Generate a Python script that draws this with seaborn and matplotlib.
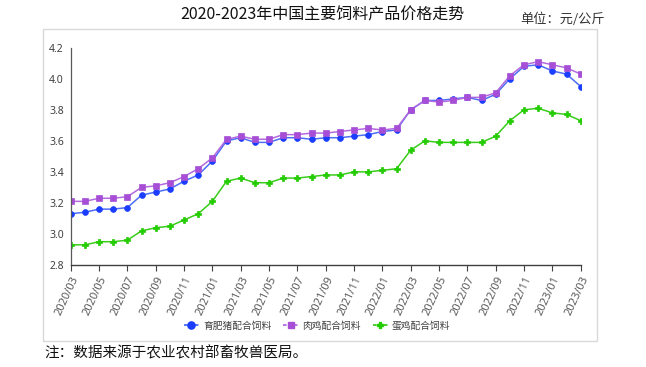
import matplotlib
matplotlib.use("Agg")
import matplotlib.pyplot as plt
import matplotlib.patches as mpatches
from matplotlib.lines import Line2D
import seaborn as sns
import pandas as pd

months = ["2020/03", "2020/04", "2020/05", "2020/06", "2020/07", "2020/08", "2020/09",
          "2020/10", "2020/11", "2020/12", "2021/01", "2021/02", "2021/03", "2021/04",
          "2021/05", "2021/06", "2021/07", "2021/08", "2021/09", "2021/10", "2021/11",
          "2021/12", "2022/01", "2022/02", "2022/03", "2022/04", "2022/05", "2022/06",
          "2022/07", "2022/08", "2022/09", "2022/10", "2022/11", "2022/12", "2023/01",
          "2023/02", "2023/03"]

pig = [3.13, 3.14, 3.16, 3.16, 3.17, 3.25, 3.27, 3.29, 3.34, 3.38, 3.47, 3.60, 3.62,
       3.59, 3.59, 3.62, 3.62, 3.61, 3.62, 3.62, 3.63, 3.64, 3.66, 3.67, 3.80, 3.86,
       3.86, 3.87, 3.88, 3.86, 3.90, 4.00, 4.08, 4.09, 4.05, 4.03, 3.95]
broiler = [3.21, 3.21, 3.23, 3.23, 3.24, 3.30, 3.31, 3.33, 3.37, 3.42, 3.49, 3.61, 3.63,
           3.61, 3.61, 3.64, 3.64, 3.65, 3.65, 3.66, 3.67, 3.68, 3.67, 3.68, 3.80, 3.86,
           3.85, 3.86, 3.88, 3.88, 3.91, 4.02, 4.09, 4.11, 4.09, 4.07, 4.03]
layer = [2.93, 2.93, 2.95, 2.95, 2.96, 3.02, 3.04, 3.05, 3.09, 3.13, 3.21, 3.34, 3.36,
         3.33, 3.33, 3.36, 3.36, 3.37, 3.38, 3.38, 3.40, 3.40, 3.41, 3.42, 3.54, 3.60,
         3.59, 3.59, 3.59, 3.59, 3.63, 3.73, 3.80, 3.81, 3.78, 3.77, 3.73]

series_names = ["育肥猪配合饲料", "肉鸡配合饲料", "蛋鸡配合饲料"]
y_ticks = [2.8, 3.0, 3.2, 3.4, 3.6, 3.8, 4.0, 4.2]

title = "2020-2023年中国主要饲料产品价格走势"
unit = "单位：元/公斤"
note = "注：数据来源于农业农村部畜牧兽医局。"

sns.set_style("white")
plt.rcParams["font.family"] = ["Noto Sans CJK SC", "DejaVu Sans"]

W, H = 646, 367
fig = plt.figure(figsize=(W / 100, H / 100), dpi=100)

# outer light box
fig.patches.append(mpatches.Rectangle((43.3 / W, 1 - 340.7 / H), (596.7 - 43.3) / W,
                                      (340.7 - 29.3) / H, transform=fig.transFigure,
                                      fill=False, edgecolor="#d9d9d9", linewidth=1.0))

ax = fig.add_axes([70.7 / W, 1 - 265 / H, (580.7 - 70.7) / W, (265 - 47.7) / H])

x = list(range(len(months)))
styles = [
    (pig, "#4d6ef5", "#1a3dff", "o", 4.2),
    (broiler, "#b36ae0", "#a64fd6", "s", 4.0),
    (layer, "#3acc1a", "#22cc00", "P", 3.8),
]
handles = []
for (vals, lc, mc, mk, ms), name in zip(styles, series_names):
    df = pd.DataFrame({"x": x, "y": vals})
    sns.lineplot(data=df, x="x", y="y", ax=ax, color=lc, linewidth=1.1,
                 marker=mk, markersize=ms, markerfacecolor=mc, markeredgecolor=mc,
                 markeredgewidth=0.5)
    handles.append(Line2D([0], [0], color=lc, linestyle=(0, (2, 1)), linewidth=1.3,
                          marker=mk, markersize=ms + 1, markerfacecolor=mc,
                          markeredgecolor=mc, label=name))

ax.set_xlim(0, len(months) - 1)
ax.set_ylim(2.8, 4.2)
ax.set_yticks(y_ticks)
ax.set_yticklabels([f"{v:.1f}" for v in y_ticks], fontsize=7.5, color="#404040",
                   family=["Noto Sans", "DejaVu Sans"])
tick_pos = x[::2]
ax.set_xticks(tick_pos)
ax.set_xticklabels([months[i] for i in tick_pos], rotation=65, ha="right",
                   rotation_mode="anchor", fontsize=8, color="#595959",
                   family=["Noto Sans", "DejaVu Sans"])
ax.tick_params(axis="x", length=4, width=0.8, color="#404040", pad=3, bottom=True)
ax.tick_params(axis="y", length=0, pad=5)
ax.set_xlabel("")
ax.set_ylabel("")
for s in ["top", "right"]:
    ax.spines[s].set_visible(False)
ax.spines["left"].set_color("#595959")
ax.spines["left"].set_linewidth(0.9)
ax.spines["bottom"].set_color("#404040")
ax.spines["bottom"].set_linewidth(1.0)
ax.grid(False)
ax.patch.set_alpha(0)

fig.legend(handles=handles, loc="center", bbox_to_anchor=(317 / W, 1 - 325.7 / H),
           ncol=3, frameon=False, fontsize=7, handlelength=1.6, handletextpad=0.4,
           columnspacing=1.2, labelcolor="#404040")

fig.text(322 / W, 1 - 15 / H, title, ha="center", va="center", fontsize=11.5,
         color="#111111")
fig.text(520.7 / W, 1 - 19.3 / H, unit, ha="left", va="center", fontsize=9.5,
         color="#333333")
fig.text(44 / W, 1 - 353 / H, note, ha="left", va="center", fontsize=10.5,
         color="#111111")

fig.savefig("out.png", dpi=100)
